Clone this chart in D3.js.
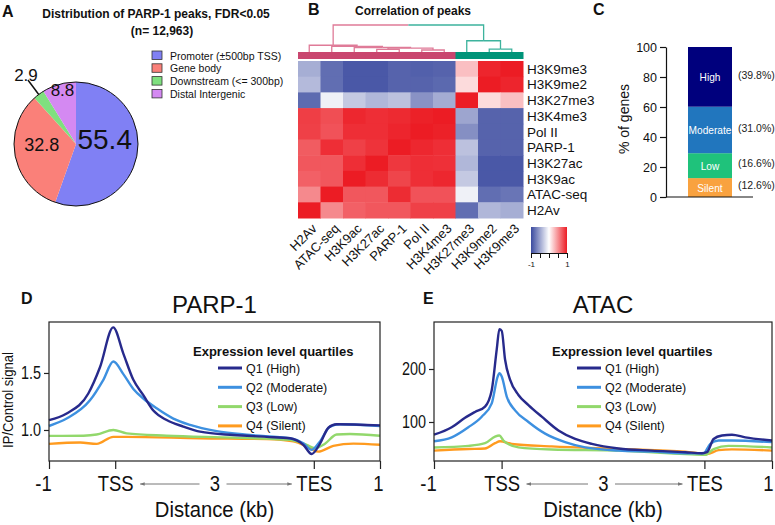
<!DOCTYPE html>
<html><head><meta charset="utf-8">
<script src="https://cdn.jsdelivr.net/npm/d3@7/dist/d3.min.js"></script>
<style>body{margin:0;background:#fff;} svg{display:block;}</style>
</head><body><svg id="c" width="775" height="525"></svg>
<script>
// ---------------- DATA ----------------
const pieCategories = ["Promoter (±500bp TSS)", "Gene body", "Downstream (<= 300bp)", "Distal Intergenic"];
const pieValues = [55.4, 32.8, 2.9, 8.8];
const pieColors = ["#8080f4", "#fa8079", "#7fe07f", "#d489f2"];

const heatRows = ["H3K9me3","H3K9me2","H3K27me3","H3K4me3","Pol II","PARP-1","H3K27ac","H3K9ac","ATAC-seq","H2Av"];
const heatCols = ["H2Av","ATAC-seq","H3K9ac","H3K27ac","PARP-1","Pol II","H3K4me3","H3K27me3","H3K9me2","H3K9me3"];
const corrValues = [
  [-0.45,-0.80,-0.92,-0.92,-0.86,-0.88,-0.86, 0.28, 0.96, 1.00],
  [-0.38,-0.80,-0.92,-0.92,-0.86,-0.86,-0.83, 0.16, 1.00, 0.96],
  [-0.82,-0.08,-0.30,-0.40,-0.34,-0.60,-0.46, 1.00, 0.16, 0.28],
  [ 0.85, 0.78, 0.95, 0.92, 0.94, 0.98, 1.00,-0.50,-0.86,-0.86],
  [ 0.84, 0.76, 0.92, 0.92, 0.96, 1.00, 0.98,-0.62,-0.86,-0.86],
  [ 0.72, 0.92, 0.84, 0.90, 1.00, 0.95, 0.92,-0.34,-0.86,-0.86],
  [ 0.74, 0.74, 0.92, 1.00, 0.88, 0.92, 0.91,-0.40,-0.92,-0.92],
  [ 0.70, 0.74, 1.00, 0.93, 0.82, 0.92, 0.95,-0.30,-0.92,-0.92],
  [ 0.52, 1.00, 0.74, 0.74, 0.93, 0.76, 0.76,-0.08,-0.80,-0.76],
  [ 1.00, 0.52, 0.70, 0.74, 0.74, 0.84, 0.84,-0.80,-0.40,-0.45]
];
// dendrogram merges (children: column names or earlier node ids), height = distance
const dendroMerges = [
  {id:"n1", a:"Pol II",   b:"H3K4me3", h:0.09},
  {id:"n2", a:"H3K27ac",  b:"PARP-1",  h:0.12},
  {id:"n3", a:"n2",       b:"n1",      h:0.17},
  {id:"n4", a:"H3K9ac",   b:"n3",      h:0.20},
  {id:"n5", a:"ATAC-seq", b:"n4",      h:0.25},
  {id:"n6", a:"H2Av",     b:"n5",      h:0.30},
  {id:"t1", a:"H3K9me2",  b:"H3K9me3", h:0.13},
  {id:"t2", a:"H3K27me3", b:"t1",      h:0.50},
  {id:"root", a:"n6",     b:"t2",      h:1.20}
];
const clusterOf = {"H2Av":0,"ATAC-seq":0,"H3K9ac":0,"H3K27ac":0,"PARP-1":0,"Pol II":0,"H3K4me3":0,"H3K27me3":1,"H3K9me2":1,"H3K9me3":1};
const clusterBarColors = ["#c9466f", "#009479"];
const clusterLineColors = ["#df7b98", "#3db39d"];

const barCategories = ["Silent", "Low", "Moderate", "High"];
const barValues = [12.6, 16.6, 31.0, 39.8];
const barColors = ["#f9a23f", "#1fc27b", "#2176be", "#00007d"];
const barTicks = [0, 20, 40, 60, 80, 100];

const quartileNames = ["Q1 (High)", "Q2 (Moderate)", "Q3 (Low)", "Q4 (Silent)"];
const quartileColors = ["#272a8c", "#3d90e0", "#92d86c", "#ff9b1f"];
const xTickValues = [-1, 0, 1.5, 3, 4];
const xTickLabels = ["-1", "TSS", "3", "TES", "1"];

// PARP-1 profile: [scaled position (TSS=0, TES=3), IP/Control]
const parpQ1 = [[-1,1.087],[-0.733,1.145],[-0.406,1.32],[-0.23,1.55],[-0.03,1.90],[0.123,1.67],[0.274,1.44],[0.425,1.305],[0.576,1.17],[0.777,1.087],[1.029,1.03],[1.281,0.985],[1.785,0.956],[2.288,0.94],[2.64,0.927],[2.842,0.87],[2.968,0.79],[3.094,0.88],[3.22,1.02],[3.345,1.05],[4,1.04]];
const parpQ2 = [[-1,1.035],[-0.733,1.10],[-0.381,1.26],[-0.179,1.44],[-0.028,1.60],[0.123,1.49],[0.274,1.36],[0.425,1.276],[0.626,1.19],[0.878,1.10],[1.13,1.045],[1.533,0.99],[2.036,0.956],[2.64,0.927],[2.842,0.884],[2.968,0.826],[3.094,0.90],[3.245,1.03],[3.396,1.05],[4,1.035]];
const parpQ3 = [[-1,0.948],[-0.48,0.95],[-0.28,0.96],[-0.028,1.0],[0.173,0.97],[0.777,0.95],[1.785,0.933],[2.64,0.913],[2.892,0.87],[3.018,0.84],[3.169,0.88],[3.345,0.96],[3.547,0.965],[4,0.95]];
const parpQ4 = [[-1,0.878],[-0.53,0.89],[-0.28,0.878],[-0.028,0.94],[0.173,0.94],[1.281,0.927],[2.288,0.92],[2.691,0.90],[2.943,0.84],[3.068,0.81],[3.295,0.86],[3.597,0.88],[4,0.87]];
// ATAC profile
const atacQ1 = [[-1,76],[-0.738,90],[-0.541,108],[-0.393,119],[-0.245,129],[-0.146,160],[-0.072,237],[-0.033,275],[0.002,272],[0.051,218],[0.125,180],[0.249,151],[0.397,132],[0.594,110],[0.841,84],[1.088,68],[1.335,58.6],[1.73,50],[2.223,46],[2.717,43],[2.963,41],[3.038,43],[3.136,68],[3.26,74.5],[3.408,76],[3.605,71],[4,65]];
const atacQ2 = [[-1,63.7],[-0.738,71],[-0.492,90],[-0.294,110],[-0.146,135],[-0.057,186],[-0.033,192],[0.002,186],[0.076,148],[0.199,122],[0.397,100],[0.644,78],[0.94,62],[1.236,52],[1.73,46],[2.223,44],[2.717,41],[2.988,41],[3.087,58.6],[3.21,65],[3.408,65],[4,62]];
const atacQ3 = [[-1,52],[-0.492,55],[-0.245,60],[-0.097,72.6],[-0.033,74.5],[0.027,65],[0.249,52],[0.742,48],[1.73,46],[2.717,39.5],[3.013,38],[3.136,49],[3.358,55],[4,52]];
const atacQ4 = [[-1,46],[-0.492,49],[-0.245,50],[-0.097,60],[-0.023,63.7],[0.15,58.6],[0.742,54],[1.73,49],[2.717,44],[3.038,39.5],[3.21,47],[3.408,48.4],[4,46]];

// ---------------- DRAWING ----------------
const FONT = "'Liberation Sans', Arial, Helvetica, sans-serif";
const svg = d3.select("#c").style("font-family", FONT);
svg.append("rect").attr("width",775).attr("height",525).attr("fill","#fff");

// narrow the glyphs horizontally (the original uses a condensed face)
function condense(sel, f) {
  sel.each(function() {
    const w = this.getComputedTextLength();
    if (w > 0) d3.select(this).attr("textLength", w * f).attr("lengthAdjust", "spacingAndGlyphs");
  });
  return sel;
}

function txt(x, y, s, size, opts={}) {
  const t = svg.append("text").attr("x", x).attr("y", y).text(s)
    .attr("font-size", size).attr("fill", opts.fill || "#111");
  if (opts.bold) t.attr("font-weight", "bold");
  if (opts.anchor) t.attr("text-anchor", opts.anchor);
  return t;
}

// ===== Panel A =====
txt(2, 17, "A", 16, {bold:true});
txt(156, 18, "Distribution of PARP-1 peaks, FDR<0.05", 12, {bold:true, anchor:"middle"});
txt(162, 35, "(n= 12,963)", 12, {bold:true, anchor:"middle"});
{
  const R = 62;
  const gA = svg.append("g").attr("transform", "translate(76,144)");
  const arcs = d3.pie().sort(null).value(d => d)(pieValues);
  const arc = d3.arc().innerRadius(0).outerRadius(R);
  gA.selectAll("path.slice").data(arcs).join("path").attr("class","slice")
    .attr("d", arc).attr("fill", (d, i) => pieColors[i]);
  gA.append("circle").attr("r", R).attr("fill", "none").attr("stroke", "#111").attr("stroke-width", 1);
  const labelFactor = [0.47, 0.565, 1.29, 0.8];
  const labelSize = [28, 18, 17, 17];
  arcs.forEach((d, i) => {
    const m = (d.startAngle + d.endAngle) / 2;
    const r = R * labelFactor[i];
    const x = Math.sin(m) * r, y = -Math.cos(m) * r;
    if (labelFactor[i] > 1) {
      gA.append("line").attr("x1", Math.sin(m) * R).attr("y1", -Math.cos(m) * R)
        .attr("x2", x).attr("y2", y).attr("stroke", "#111").attr("stroke-width", 1.5);
      gA.append("text").attr("x", x - 2).attr("y", y + 1).attr("text-anchor", "middle")
        .attr("font-size", labelSize[i]).attr("fill", "#111").text(pieValues[i].toFixed(1));
    } else {
      gA.append("text").attr("x", x).attr("y", y).attr("text-anchor", "middle")
        .attr("font-size", labelSize[i]).attr("fill", "#111").text(pieValues[i].toFixed(1));
    }
  });
  const lg = svg.append("g").attr("transform", "translate(152,51)");
  pieCategories.forEach((c, i) => {
    lg.append("rect").attr("x", 0).attr("y", i * 12.8).attr("width", 10).attr("height", 8.5)
      .attr("fill", pieColors[i]).attr("stroke", "#333").attr("stroke-width", 0.8);
    lg.append("text").attr("x", 18).attr("y", i * 12.8 + 8.5).attr("font-size", 10.5)
      .attr("fill", "#111").text(c);
  });
}

// ===== Panel B =====
txt(308, 15, "B", 16, {bold:true});
txt(413, 15, "Correlation of peaks", 12, {bold:true, anchor:"middle"});
{
  const x = d3.scaleBand().domain(heatCols).range([298, 523]);
  const y = d3.scaleBand().domain(heatRows).range([61, 218]);
  const color = d3.scaleLinear().domain([-1, 0, 1]).range(["#3a4a9f", "#ffffff", "#ec1c24"]);
  const cells = [];
  heatRows.forEach((r, i) => heatCols.forEach((c, j) => cells.push({r, c, v: corrValues[i][j]})));
  svg.append("g").selectAll("rect").data(cells).join("rect")
    .attr("x", d => x(d.c)).attr("y", d => y(d.r))
    .attr("width", x.bandwidth() + 0.5).attr("height", y.bandwidth() + 0.5)
    .attr("fill", d => color(d.v));
  svg.append("g").selectAll("rect").data(heatCols).join("rect")
    .attr("x", d => x(d)).attr("y", 52).attr("width", x.bandwidth() + 0.5).attr("height", 7)
    .attr("fill", d => clusterBarColors[clusterOf[d]]);
  const hy = d3.scaleLinear().domain([0, 1.2]).range([52, 25]);
  const nodes = {};
  heatCols.forEach(c => nodes[c] = {x: x(c) + x.bandwidth() / 2, y: 52, cl: clusterOf[c]});
  const dg = svg.append("g").attr("fill", "none").attr("stroke-width", 1.3);
  dendroMerges.forEach(m => {
    const A = nodes[m.a], B = nodes[m.b], yy = hy(m.h);
    const mx = (A.x + B.x) / 2;
    const same = A.cl === B.cl;
    dg.append("path").attr("d", `M${A.x},${A.y}V${yy}H${mx}`).attr("stroke", clusterLineColors[A.cl]);
    dg.append("path").attr("d", `M${B.x},${B.y}V${yy}H${mx}`).attr("stroke", clusterLineColors[B.cl]);
    nodes[m.id] = {x: mx, y: yy, cl: same ? A.cl : -1};
  });
  svg.append("g").selectAll("text").data(heatRows).join("text")
    .attr("x", 527).attr("y", d => y(d) + y.bandwidth() / 2).attr("dy", "0.36em")
    .attr("font-size", 13.5).attr("fill", "#111").text(d => d);
  svg.append("g").selectAll("text").data(heatCols).join("text")
    .attr("transform", d => `translate(${x(d) + x.bandwidth() / 2 + 5},${226}) rotate(-45)`)
    .attr("text-anchor", "end").attr("dy", "0.36em")
    .attr("font-size", 13).attr("fill", "#111").text(d => d);
  const defs = svg.append("defs");
  const gr = defs.append("linearGradient").attr("id", "corrGrad");
  [-1, -0.5, 0, 0.5, 1].forEach(v => gr.append("stop").attr("offset", ((v + 1) / 2 * 100) + "%").attr("stop-color", color(v)));
  const kx = d3.scaleLinear().domain([-1, 1]).range([531, 567]);
  svg.append("rect").attr("x", 531).attr("y", 227).attr("width", 36).attr("height", 26).attr("fill", "url(#corrGrad)");
  const kAxis = d3.axisBottom(kx).tickValues([-1, -0.5, 0, 0.5, 1]).tickSize(5).tickSizeOuter(0)
    .tickFormat(d => (d === -1 || d === 1) ? String(d) : "");
  const kg = svg.append("g").attr("transform", "translate(0,253)").call(kAxis);
  kg.selectAll("text").attr("font-size", 8).attr("font-family", FONT).attr("fill", "#111");
  kg.selectAll("line,path").attr("stroke", "#111");
}

// ===== Panel C =====
txt(593, 15, "C", 16, {bold:true});
{
  const y = d3.scaleLinear().domain([0, 100]).range([197, 47]);
  const xb = d3.scaleBand().domain(["genes"]).range([666, 754]).padding(1/3);
  let cum = 0;
  const segs = barValues.map((v, i) => { const s = {cat: barCategories[i], v, y0: cum, y1: cum + v, c: barColors[i]}; cum += v; return s; });
  svg.append("g").selectAll("rect").data(segs).join("rect")
    .attr("x", xb("genes")).attr("width", xb.bandwidth())
    .attr("y", d => y(Math.min(d.y1, 100))).attr("height", d => y(d.y0) - y(Math.min(d.y1, 100)))
    .attr("fill", d => d.c);
  condense(svg.append("g").selectAll("text").data(segs).join("text")
    .attr("x", xb("genes") + xb.bandwidth() / 2).attr("y", d => y((d.y0 + Math.min(d.y1, 100)) / 2)).attr("dy", "0.36em")
    .attr("text-anchor", "middle").attr("font-size", 11.5).attr("fill", "#fff").text(d => d.cat), 0.88);
  svg.append("g").selectAll("text").data(segs).join("text")
    .attr("x", 738).attr("y", d => y((d.y0 + Math.min(d.y1, 100)) / 2) - 2).attr("dy", "0.36em")
    .attr("font-size", 10.5).attr("fill", "#222").text(d => `(${d.v.toFixed(1)}%)`);
  const ax = svg.append("g").attr("transform", "translate(666,0)")
    .call(d3.axisLeft(y).tickValues(barTicks).tickSize(6).tickSizeOuter(0));
  ax.selectAll("text").attr("font-size", 12.5).attr("font-family", FONT).attr("fill", "#111");
  ax.selectAll("line,path").attr("stroke", "#111").attr("stroke-width", 1.2);
  svg.append("line").attr("x1", 666).attr("x2", 753).attr("y1", 197).attr("y2", 197)
    .attr("stroke", "#111").attr("stroke-width", 1.2);
  svg.append("text").attr("transform", "translate(629,119) rotate(-90)").attr("text-anchor", "middle")
    .attr("font-size", 14).attr("fill", "#111").text("% of genes");
}

// ===== Panels D & E =====
const defs2 = svg.append("defs");
defs2.append("marker").attr("id", "arr").attr("viewBox", "0 0 10 10").attr("refX", 9).attr("refY", 5)
  .attr("markerWidth", 5).attr("markerHeight", 5).attr("orient", "auto-start-reverse")
  .append("path").attr("d", "M0,1.5L10,5L0,8.5z").attr("fill", "#777");

function profilePanel(o) {
  const x = d3.scaleLinear().domain([-1, 4]).range([o.x0, o.x1]);
  const y = d3.scaleLinear().domain(o.yDomain).range([461, 322]);
  txt(o.letterX, 304, o.letter, 16, {bold:true});
  txt((o.x0 + o.x1) / 2, 313, o.title, 24, {anchor:"middle"});
  const line = d3.line().x(d => x(d[0])).y(d => y(d[1])).curve(d3.curveMonotoneX);
  const g = svg.append("g");
  const series = o.series;
  for (let i = series.length - 1; i >= 0; i--) {
    g.append("path").attr("d", line(series[i])).attr("fill", "none")
      .attr("stroke", quartileColors[i]).attr("stroke-width", 2.4).attr("stroke-linejoin", "round");
  }
  svg.append("rect").attr("x", o.x0).attr("y", 322).attr("width", o.x1 - o.x0).attr("height", 139)
    .attr("fill", "none").attr("stroke", "#222").attr("stroke-width", 1.2);
  const ya = svg.append("g").attr("transform", `translate(${o.x0},0)`)
    .call(d3.axisLeft(y).tickValues(o.yTicks).tickFormat(o.yFmt).tickSize(5).tickSizeOuter(0));
  ya.select(".domain").remove();
  ya.selectAll("text").attr("font-size", 18).attr("font-family", FONT).attr("fill", "#111");
  condense(ya.selectAll("text"), 0.8);
  ya.selectAll("line").attr("stroke", "#222").attr("stroke-width", 1.2);
  const xa = svg.append("g").attr("transform", "translate(0,461)")
    .call(d3.axisBottom(x).tickValues(xTickValues).tickFormat((d, i) => xTickLabels[i]).tickSize(8).tickPadding(6).tickSizeOuter(0));
  xa.select(".domain").remove();
  xa.selectAll("text").attr("font-size", 22.5).attr("font-family", FONT).attr("fill", "#111");
  condense(xa.selectAll("text"), 0.82);
  xa.selectAll("line").attr("stroke", "#222").attr("stroke-width", 1.2)
    .attr("y2", d => d === 1.5 ? 0 : 8);
  xa.selectAll(".tick").filter(d => d === -1).select("text").attr("dx", -6);
  xa.selectAll(".tick").filter(d => d === 4).select("text").attr("dx", o.lastDx);
  svg.append("line").attr("x1", x(0) + 25).attr("x2", x(1.5) - 15).attr("y1", 484).attr("y2", 484)
    .attr("stroke", "#777").attr("stroke-width", 1).attr("marker-start", "url(#arr)");
  svg.append("line").attr("x1", x(1.5) + 12).attr("x2", x(3) - 22).attr("y1", 484).attr("y2", 484)
    .attr("stroke", "#777").attr("stroke-width", 1).attr("marker-end", "url(#arr)");
  condense(txt((o.x0 + o.x1) / 2, 517, "Distance (kb)", 22.5, {anchor:"middle"}), 0.9);
  txt(o.legX, 356, "Expression level quartiles", 13, {bold:true});
  quartileNames.forEach((n, i) => {
    const yy = 368 + i * 19.3;
    svg.append("line").attr("x1", o.legX + 25).attr("x2", o.legX + 49).attr("y1", yy).attr("y2", yy)
      .attr("stroke", quartileColors[i]).attr("stroke-width", 3);
    svg.append("text").attr("x", o.legX + 53).attr("y", yy).attr("dy", "0.36em")
      .attr("font-size", 12.5).attr("fill", "#111").text(n);
  });
}

profilePanel({letter:"D", letterX:21, title:"PARP-1", x0:49, x1:380, yDomain:[0.728, 1.947],
  yTicks:[1.0, 1.5], yFmt:d3.format(".1f"), series:[parpQ1, parpQ2, parpQ3, parpQ4], legX:193, lastDx:-2});
profilePanel({letter:"E", letterX:423, title:"ATAC", x0:434, x1:772, yDomain:[26.4, 288.7],
  yTicks:[100, 200], yFmt:d3.format("d"), series:[atacQ1, atacQ2, atacQ3, atacQ4], legX:552, lastDx:-4});

condense(svg.append("text").attr("transform", "translate(13,400) rotate(-90)").attr("text-anchor", "middle")
  .attr("font-size", 14.5).attr("fill", "#111").text("IP/Control signal"), 0.9);
</script></body></html>
